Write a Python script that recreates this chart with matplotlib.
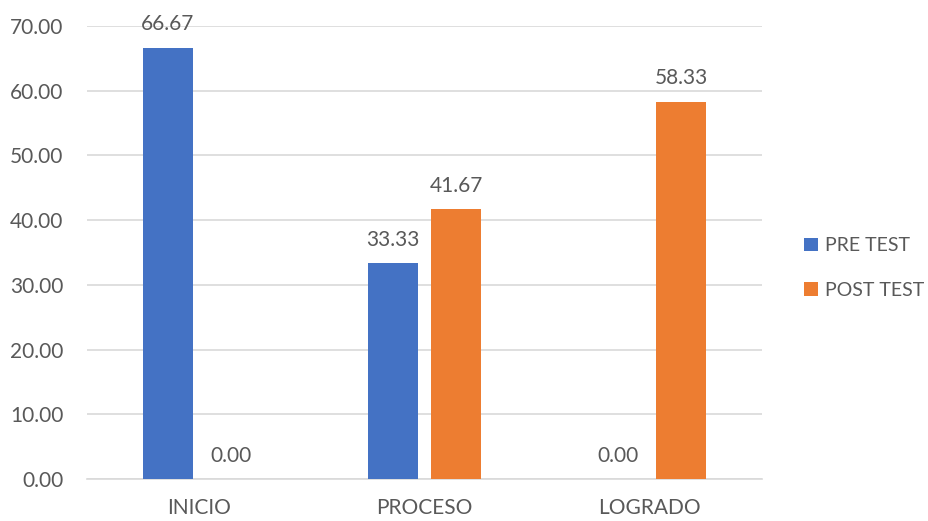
import numpy as np
import matplotlib.pyplot as plt

categories = ['INICIO', 'PROCESO', 'LOGRADO']
pre_test = [66.67, 33.33, 0.00]
post_test = [0.00, 41.67, 58.33]
series_names = ['PRE TEST', 'POST TEST']
yticks = [0, 10, 20, 30, 40, 50, 60, 70]

plt.rcParams['font.family'] = ['Lato', 'DejaVu Sans']
txt_color = '#595959'
fs = 15

fig = plt.figure(figsize=(9.29, 5.21), dpi=100)
ax = fig.add_axes([87 / 929, 1 - 479 / 521, (762 - 87) / 929, (479 - 26) / 521])

x = np.arange(len(categories))
w = 0.222
off = 0.142
b1 = ax.bar(x - off, pre_test, w, color='#4472C4', label=series_names[0], zorder=3)
b2 = ax.bar(x + off, post_test, w, color='#ED7D31', label=series_names[1], zorder=3)

# etiquetas de datos sobre cada barra
for bars in (b1, b2):
    for rect in bars:
        h = rect.get_height()
        ax.annotate('%.2f' % h, (rect.get_x() + rect.get_width() / 2, h),
                    xytext=(0, 12.5), textcoords='offset points',
                    ha='center', va='baseline', fontsize=fs, color=txt_color)

ax.set_xlim(-0.5, 2.5)
ax.set_ylim(0, 70)
ax.set_yticks(yticks)
ax.set_yticklabels(['%.2f' % v for v in yticks])
ax.set_xticks(x)
ax.set_xticklabels(categories)
ax.tick_params(axis='both', length=0, labelsize=fs, labelcolor=txt_color)
ax.tick_params(axis='x', pad=14)
ax.tick_params(axis='y', pad=17)
ax.grid(axis='y', color='#D9D9D9', linewidth=1.2, zorder=0)
for s in ['top', 'right', 'left']:
    ax.spines[s].set_visible(False)
ax.spines['bottom'].set_color('#D9D9D9')
ax.spines['bottom'].set_linewidth(1.2)

leg = fig.legend(loc='center left', bbox_to_anchor=(804 / 929, 1 - 268 / 521),
                 frameon=False, fontsize=14, borderpad=0, borderaxespad=0,
                 handlelength=0.7, handleheight=0.7, labelspacing=1.4,
                 handletextpad=0.4)
for t in leg.get_texts():
    t.set_color(txt_color)

fig.savefig('out.png', dpi=100)
plt.close()
